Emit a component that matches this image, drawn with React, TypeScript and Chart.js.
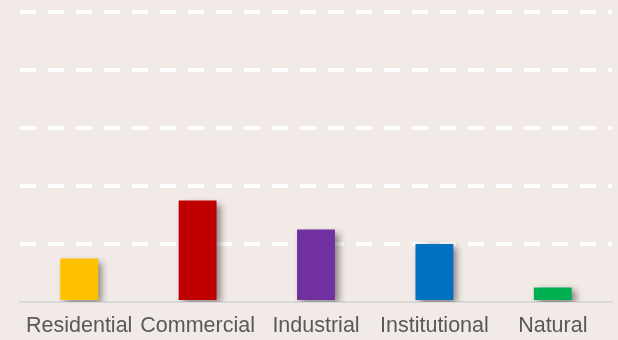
import React, { useEffect, useRef } from "react";
import { Chart, registerables } from "chart.js";

Chart.register(...registerables);

const categories = ["Residential", "Commercial", "Industrial", "Institutional", "Natural"];
const values = [15, 35, 25, 20, 5];
const barColors = ["#FFC000", "#C00000", "#7030A0", "#0070C0", "#00B050"];

const shadowPlugin = {
  id: "barShadow",
  beforeDatasetsDraw(chart: any) {
    const ctx = chart.ctx;
    ctx.save();
    ctx.shadowColor = "rgba(0,0,0,0.45)";
    ctx.shadowBlur = 7;
    ctx.shadowOffsetX = 4;
    ctx.shadowOffsetY = 3;
  },
  afterDatasetsDraw(chart: any) {
    chart.ctx.restore();
  },
};

export default function App() {
  const ref = useRef<HTMLCanvasElement | null>(null);
  useEffect(() => {
    if (!ref.current) return;
    const chart = new Chart(ref.current, {
      type: "bar",
      data: {
        labels: categories,
        datasets: [
          {
            data: values,
            backgroundColor: barColors,
            borderWidth: 0,
            barPercentage: 0.32,
            categoryPercentage: 1,
          },
        ],
      },
      options: {
        animation: false,
        responsive: true,
        maintainAspectRatio: false,
        layout: { padding: { left: 20, right: 6, top: 12, bottom: 0 } },
        plugins: { legend: { display: false }, tooltip: { enabled: false } },
        scales: {
          x: {
            grid: { display: false, drawTicks: false },
            border: { display: true, color: "#D9D9D9", width: 2 },
            afterFit: (scale: any) => {
              scale.height = 38;
            },
            ticks: {
              color: "#595959",
              padding: 11,
              font: { family: "'Liberation Sans', Arial, sans-serif", size: 21.5 },
              maxRotation: 0,
              autoSkip: false,
            },
          },
          y: {
            min: 0,
            max: 100,
            ticks: { display: false, stepSize: 20 },
            border: { display: false, dash: [16, 12] },
            grid: {
              drawTicks: false,
              lineWidth: 4,
              color: (c: any) => (c.tick && c.tick.value === 0 ? "rgba(0,0,0,0)" : "#FFFFFF"),
            },
          },
        },
      },
      plugins: [shadowPlugin],
    });
    return () => chart.destroy();
  }, []);
  return (
    <div
      style={{
        position: "fixed",
        left: 0,
        top: 0,
        width: 618,
        height: 340,
        background: "#F2EAE6",
      }}
    >
      <canvas ref={ref} />
    </div>
  );
}
